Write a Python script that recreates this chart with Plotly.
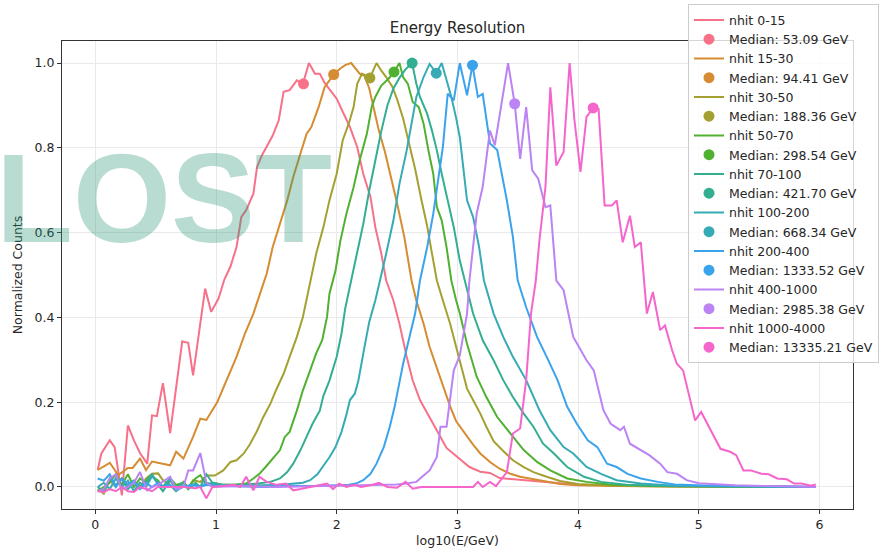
import math
import plotly.graph_objects as go

# ---------------- data ----------------
labels = ["nhit 0-15", "nhit 15-30", "nhit 30-50", "nhit 50-70", "nhit 70-100",
          "nhit 100-200", "nhit 200-400", "nhit 400-1000", "nhit 1000-4000"]
colors = ['#f77189', '#d58c32', '#a4a031', '#50b131', '#34ae91',
          '#37abb5', '#3ba3ec', '#bb83f4', '#f565cc']
median_gev = [53.09, 94.41, 188.36, 298.54, 421.70, 668.34, 1333.52, 2985.38, 13335.21]
median_y = [0.951, 0.973, 0.965, 0.979, 1.0, 0.976, 0.995, 0.904, 0.894]

pts_0_15 = [(0.02,0.04),(0.05,0.079),(0.12,0.11),(0.16,0.094),(0.22,-0.02),(0.27,0.145),(0.32,0.11),
    (0.37,0.08),(0.43,0.055),(0.47,0.169),(0.51,0.167),(0.56,0.245),(0.62,0.127),(0.72,0.343),
    (0.77,0.34),(0.81,0.263),(0.91,0.468),(0.96,0.413),(1.02,0.444),(1.07,0.49),(1.12,0.52),
    (1.17,0.566),(1.21,0.637),(1.25,0.653),(1.31,0.692),(1.34,0.755),(1.38,0.782),(1.42,0.802),
    (1.47,0.829),(1.52,0.865),(1.56,0.932),(1.61,0.936),(1.67,0.959),(1.72,0.951),(1.77,1.0),
    (1.82,0.975),(1.86,0.975),(1.90,0.953),(1.95,0.935),(2.0,0.916),(2.05,0.885),(2.11,0.849),
    (2.17,0.802),(2.22,0.739),(2.28,0.684),(2.32,0.613),(2.37,0.55),(2.41,0.487),(2.47,0.44),
    (2.52,0.385),(2.58,0.307),(2.63,0.251),(2.69,0.205),(2.75,0.173),(2.80,0.149),(2.86,0.118),
    (2.91,0.092),(2.97,0.078),(3.02,0.066),(3.10,0.047),(3.19,0.036),(3.27,0.033),(3.35,0.021),
    (3.44,0.019),(3.52,0.018),(3.68,0.014),(3.85,0.009),(4.0,0.005),(4.3,0.003),(4.7,0.002),
    (5.2,0.001),(5.97,0.0)]

pts_15_30 = [(0.02,0.04),(0.12,0.057),(0.19,0.028),(0.27,0.045),(0.31,0.045),(0.37,0.067),(0.42,0.04),
    (0.47,0.06),(0.62,0.051),(0.67,0.083),(0.73,0.067),(0.81,0.118),(0.87,0.161),(0.92,0.158),
    (1.01,0.2),(1.09,0.252),(1.17,0.307),(1.24,0.362),(1.31,0.409),(1.36,0.452),(1.42,0.503),
    (1.47,0.566),(1.53,0.62),(1.59,0.676),(1.64,0.731),(1.70,0.786),(1.75,0.833),(1.79,0.849),
    (1.85,0.896),(1.90,0.943),(1.975,0.973),(2.03,0.987),(2.07,0.995),(2.12,1.0),(2.15,0.99),
    (2.19,0.975),(2.23,0.97),(2.27,0.94),(2.31,0.89),(2.35,0.84),(2.40,0.79),(2.45,0.73),
    (2.50,0.67),(2.56,0.59),(2.62,0.487),(2.66,0.44),(2.72,0.385),(2.77,0.33),(2.83,0.28),
    (2.88,0.24),(2.94,0.19),(2.99,0.155),(3.08,0.118),(3.13,0.1),(3.19,0.079),(3.27,0.059),
    (3.35,0.043),(3.44,0.031),(3.52,0.024),(3.60,0.02),(3.68,0.016),(3.77,0.01),(3.85,0.007),
    (4.0,0.004),(4.3,0.002),(4.8,0.001),(5.97,0.0)]

pts_30_50 = [(0.02,-0.005),(0.07,-0.016),(0.12,0.016),(0.17,0.0),(0.22,0.02),(0.27,0.005),(0.32,0.015),
    (0.37,0.0),(0.42,0.02),(0.47,0.031),(0.52,0.032),(0.56,0.016),(0.62,0.005),(0.66,-0.008),
    (0.73,0.012),(0.77,-0.005),(0.81,0.016),(0.87,0.012),(0.92,0.027),(0.99,0.027),(1.06,0.039),
    (1.12,0.059),(1.17,0.063),(1.23,0.079),(1.28,0.10),(1.34,0.132),(1.39,0.164),(1.45,0.196),
    (1.50,0.23),(1.56,0.267),(1.61,0.307),(1.67,0.354),(1.72,0.401),(1.78,0.48),(1.83,0.55),
    (1.89,0.613),(1.94,0.676),(2.0,0.739),(2.05,0.818),(2.10,0.857),(2.14,0.896),(2.17,0.951),
    (2.21,0.975),(2.275,0.965),(2.33,1.0),(2.37,0.982),(2.41,0.967),(2.46,0.945),(2.50,0.915),
    (2.55,0.87),(2.60,0.81),(2.65,0.75),(2.70,0.68),(2.75,0.615),(2.79,0.55),(2.83,0.487),
    (2.88,0.44),(2.94,0.385),(2.99,0.33),(3.02,0.295),(3.08,0.232),(3.13,0.205),(3.19,0.173),
    (3.24,0.142),(3.30,0.108),(3.38,0.085),(3.46,0.063),(3.55,0.047),(3.63,0.035),(3.74,0.024),
    (3.85,0.014),(4.0,0.007),(4.3,0.003),(4.8,0.001),(5.97,0.0)]

pts_50_70 = [(0.02,-0.01),(0.07,0.0),(0.12,0.01),(0.17,0.03),(0.22,0.005),(0.27,0.03),(0.32,0.0),
    (0.37,0.02),(0.42,0.01),(0.47,0.025),(0.52,0.015),(0.56,0.0),(0.62,0.02),(0.67,0.005),
    (0.73,0.01),(0.77,0.0),(0.83,0.02),(0.87,0.028),(0.92,0.005),(0.98,0.01),(1.05,0.005),
    (1.15,0.005),(1.25,0.008),(1.31,0.02),(1.36,0.031),(1.42,0.05),(1.48,0.071),(1.53,0.087),
    (1.57,0.118),(1.61,0.13),(1.67,0.18),(1.72,0.228),(1.78,0.275),(1.83,0.315),(1.88,0.346),
    (1.92,0.401),(1.94,0.456),(1.99,0.51),(2.03,0.58),(2.08,0.644),(2.14,0.707),(2.19,0.77),
    (2.25,0.833),(2.29,0.896),(2.32,0.92),(2.37,0.947),(2.43,0.963),(2.475,0.979),(2.52,1.0),
    (2.55,0.967),(2.59,0.951),(2.63,0.908),(2.68,0.896),(2.72,0.857),(2.76,0.794),(2.80,0.739),
    (2.83,0.66),(2.87,0.629),(2.91,0.566),(2.95,0.487),(2.99,0.44),(3.02,0.41),(3.08,0.338),
    (3.16,0.26),(3.24,0.212),(3.33,0.165),(3.44,0.126),(3.55,0.087),(3.66,0.059),(3.77,0.039),
    (3.91,0.02),(4.07,0.012),(4.26,0.006),(4.6,0.002),(5.97,0.0)]

pts_70_100 = [(0.02,0.0),(0.07,-0.01),(0.12,0.02),(0.17,0.005),(0.22,0.02),(0.27,-0.005),(0.32,0.01),
    (0.37,0.0),(0.42,0.015),(0.47,0.03),(0.52,0.005),(0.56,-0.01),(0.62,0.015),(0.67,0.0),
    (0.73,0.01),(0.77,-0.005),(0.83,0.01),(0.87,0.0),(0.92,0.03),(0.97,0.01),(1.05,0.005),
    (1.2,0.005),(1.35,0.008),(1.45,0.012),(1.53,0.02),(1.59,0.035),(1.64,0.055),(1.70,0.087),
    (1.75,0.118),(1.80,0.149),(1.86,0.18),(1.89,0.215),(1.94,0.251),(2.0,0.307),(2.04,0.362),
    (2.07,0.42),(2.12,0.487),(2.17,0.55),(2.22,0.62),(2.27,0.70),(2.32,0.77),(2.37,0.84),
    (2.42,0.90),(2.47,0.94),(2.52,0.965),(2.57,0.985),(2.625,1.0),(2.66,0.951),(2.69,0.92),
    (2.75,0.88),(2.79,0.84),(2.83,0.794),(2.87,0.739),(2.91,0.69),(2.97,0.613),(3.02,0.534),
    (3.06,0.487),(3.13,0.409),(3.21,0.346),(3.30,0.299),(3.38,0.252),(3.46,0.212),(3.55,0.173),
    (3.63,0.142),(3.71,0.102),(3.80,0.079),(3.91,0.047),(4.05,0.024),(4.19,0.012),(4.4,0.005),
    (4.8,0.002),(5.97,0.0)]

pts_100_200 = [(0.02,0.0),(0.07,0.01),(0.12,-0.005),(0.17,0.02),(0.22,0.0),(0.27,0.015),(0.32,-0.01),
    (0.37,0.01),(0.42,0.0),(0.47,0.025),(0.52,0.01),(0.56,0.0),(0.62,0.02),(0.67,-0.01),
    (0.73,0.005),(0.77,0.0),(0.83,0.005),(0.87,0.0),(0.92,0.01),(1.0,0.005),(1.2,0.003),
    (1.4,0.005),(1.55,0.005),(1.65,0.008),(1.72,0.01),(1.78,0.016),(1.84,0.03),(1.89,0.05),
    (1.94,0.07),(1.99,0.094),(2.04,0.13),(2.08,0.17),(2.11,0.205),(2.15,0.22),(2.18,0.251),
    (2.23,0.33),(2.27,0.39),(2.32,0.44),(2.36,0.487),(2.41,0.55),(2.47,0.629),(2.52,0.715),
    (2.58,0.794),(2.62,0.857),(2.66,0.92),(2.72,0.967),(2.77,0.998),(2.825,0.976),(2.87,1.0),
    (2.91,0.96),(2.95,0.92),(2.99,0.87),(3.02,0.825),(3.08,0.676),(3.13,0.637),(3.18,0.566),
    (3.22,0.487),(3.30,0.409),(3.38,0.354),(3.46,0.307),(3.57,0.252),(3.68,0.181),(3.77,0.134),
    (3.88,0.094),(3.96,0.079),(4.07,0.047),(4.19,0.031),(4.32,0.016),(4.52,0.008),(4.8,0.003),
    (5.97,0.0)]

pts_200_400 = [(0.02,0.02),(0.07,0.015),(0.12,0.03),(0.17,0.0),(0.22,0.02),(0.27,0.005),(0.32,0.015),
    (0.37,-0.005),(0.42,0.01),(0.47,0.0),(0.52,0.01),(0.56,0.0),(0.62,0.005),(0.67,-0.008),
    (0.73,0.0),(0.80,0.005),(0.87,0.0),(0.92,0.005),(1.0,0.003),(1.2,0.002),(1.4,0.0),
    (1.6,0.003),(1.8,0.002),(2.0,0.004),(2.1,0.005),(2.16,0.008),(2.22,0.016),(2.28,0.031),
    (2.33,0.055),(2.39,0.094),(2.44,0.142),(2.48,0.189),(2.52,0.251),(2.55,0.29),(2.61,0.362),
    (2.65,0.409),(2.69,0.487),(2.75,0.566),(2.80,0.644),(2.84,0.723),(2.88,0.802),(2.92,0.928),
    (2.97,0.912),(3.02,1.0),(3.08,0.924),(3.125,0.995),(3.17,0.92),(3.21,0.927),(3.27,0.81),
    (3.33,0.795),(3.37,0.739),(3.41,0.676),(3.46,0.59),(3.50,0.487),(3.57,0.424),(3.66,0.354),
    (3.74,0.307),(3.83,0.252),(3.91,0.189),(3.99,0.149),(4.08,0.110),(4.16,0.094),(4.24,0.055),
    (4.32,0.047),(4.41,0.031),(4.52,0.020),(4.66,0.012),(4.80,0.006),(5.1,0.003),(5.97,0.0)]

pts_400_1000 = [(0.02,-0.01),(0.07,-0.005),(0.12,0.02),(0.17,0.03),(0.22,-0.005),(0.27,0.0),(0.32,0.01),
    (0.37,0.035),(0.43,-0.008),(0.47,0.0),(0.52,0.005),(0.62,0.024),(0.67,-0.005),(0.73,0.0),
    (0.77,0.039),(0.81,0.039),(0.87,0.08),(0.92,0.01),(0.97,0.0),(1.2,0.002),(1.5,0.0),
    (1.8,0.002),(2.1,0.003),(2.3,0.004),(2.5,0.006),(2.58,0.008),(2.66,0.012),(2.72,0.027),
    (2.77,0.039),(2.83,0.071),(2.86,0.142),(2.91,0.142),(2.97,0.275),(3.02,0.31),(3.08,0.409),
    (3.10,0.487),(3.16,0.645),(3.21,0.708),(3.27,0.841),(3.31,0.806),(3.37,0.912),(3.42,1.0),
    (3.475,0.904),(3.52,0.774),(3.57,0.896),(3.62,0.747),(3.67,0.727),(3.73,0.66),(3.77,0.664),
    (3.82,0.487),(3.88,0.464),(3.96,0.354),(4.07,0.299),(4.13,0.275),(4.21,0.181),(4.27,0.149),
    (4.35,0.134),(4.38,0.142),(4.43,0.102),(4.52,0.087),(4.59,0.075),(4.68,0.055),(4.74,0.035),
    (4.82,0.031),(4.90,0.016),(5.0,0.009),(5.3,0.004),(5.6,0.002),(5.97,0.0)]

pts_1000_4000 = [(0.02,-0.01),(0.07,-0.012),(0.12,-0.005),(0.17,-0.01),(0.22,0.0),(0.27,-0.01),(0.32,-0.012),
    (0.37,0.0),(0.42,-0.005),(0.47,-0.01),(0.52,0.0),(0.62,0.0),(0.73,0.0),(0.83,-0.003),
    (0.87,0.0),(0.92,-0.027),(0.97,0.0),(1.05,0.002),(1.15,0.005),(1.20,0.0),(1.25,0.024),
    (1.31,-0.008),(1.36,0.024),(1.42,0.012),(1.5,0.005),(1.58,0.008),(1.64,-0.008),(1.70,-0.005),
    (1.78,0.0),(1.86,0.006),(1.92,0.008),(1.97,-0.005),(2.02,0.008),(2.08,0.0),(2.15,0.005),
    (2.2,0.0),(2.28,0.004),(2.35,0.01),(2.42,0.0),(2.5,-0.002),(2.57,0.012),(2.63,-0.004),
    (2.7,0.0),(2.86,0.0),(3.13,0.0),(3.17,0.012),(3.21,0.0),(3.27,0.012),(3.32,0.002),
    (3.41,0.035),(3.46,0.126),(3.52,0.138),(3.57,0.252),(3.61,0.409),(3.65,0.487),(3.68,0.582),
    (3.73,0.708),(3.77,0.943),(3.82,0.758),(3.88,0.79),(3.93,1.0),(3.97,0.865),(4.02,0.743),
    (4.07,0.873),(4.125,0.894),(4.17,0.892),(4.22,0.664),(4.28,0.664),(4.32,0.676),(4.37,0.577),
    (4.43,0.64),(4.47,0.566),(4.52,0.577),(4.57,0.409),(4.62,0.46),(4.68,0.37),(4.72,0.381),
    (4.78,0.322),(4.82,0.29),(4.87,0.275),(4.97,0.157),(5.02,0.177),(5.10,0.134),(5.18,0.090),
    (5.26,0.083),(5.31,0.075),(5.37,0.039),(5.43,0.039),(5.52,0.031),(5.58,0.030),(5.65,0.020),
    (5.73,0.018),(5.79,0.008),(5.85,0.008),(5.93,0.003),(5.97,0.006)]

series_pts = [pts_0_15, pts_15_30, pts_30_50, pts_50_70, pts_70_100,
              pts_100_200, pts_200_400, pts_400_1000, pts_1000_4000]

x_ticks = [0, 1, 2, 3, 4, 5, 6]
y_ticks = [0.0, 0.2, 0.4, 0.6, 0.8, 1.0]

# ---------------- figure ----------------
fig = go.Figure()
for lab, col, pts, mg, my in zip(labels, colors, series_pts, median_gev, median_y):
    fig.add_trace(go.Scatter(x=[p[0] for p in pts], y=[p[1] for p in pts], mode="lines",
                             name=lab, line=dict(color=col, width=2)))
    fig.add_trace(go.Scatter(x=[math.log10(mg)], y=[my], mode="markers",
                             name=f"Median: {mg:.2f} GeV",
                             marker=dict(color=col, size=11)))

axis_common = dict(showline=True, mirror=True, linecolor="#333333", linewidth=1,
                   ticks="outside", ticklen=4, tickcolor="#333333",
                   showgrid=True, gridcolor="#e9e9e9", gridwidth=1, zeroline=False,
                   tickfont=dict(size=12.5, color="#262626"))

fig.update_layout(
    width=879, height=548,
    margin=dict(l=62, r=26, t=41, b=39, autoexpand=False),
    paper_bgcolor="white", plot_bgcolor="white",
    font=dict(family="DejaVu Sans", size=12.5, color="#262626"),
    title=dict(text="Energy Resolution", x=0.5, xref="paper", y=1 - 28 / 548,
               yref="container", xanchor="center", yanchor="middle",
               font=dict(size=15, color="#262626")),
    xaxis=dict(range=[-0.276, 6.278], tickvals=x_ticks, ticktext=[str(v) for v in x_ticks],
               title=dict(text="log10(E/GeV)", standoff=6, font=dict(size=12.5)), **axis_common),
    yaxis=dict(range=[-0.052, 1.052], tickvals=y_ticks, ticktext=[f"{v:.1f}" for v in y_ticks],
               title=dict(text="Normalized Counts", standoff=9, font=dict(size=12.5)), **axis_common),
    legend=dict(x=(688 - 62) / 791, y=(508.7 - 363) / 468, xanchor="left", yanchor="bottom",
                bgcolor="rgba(255,255,255,0.8)", bordercolor="#cccccc", borderwidth=1,
                font=dict(size=12.5, color="#262626"), tracegroupgap=0),
    showlegend=True,
)

fig.add_annotation(text="<b>LOST</b>", xref="paper", yref="paper",
                   x=(-6 - 62) / 791, y=(508.7 - 198) / 468, xanchor="left", yanchor="middle",
                   showarrow=False,
                   font=dict(family="Liberation Sans", size=126, color="rgba(40,150,115,0.33)"))

fig.write_html("out.html")
